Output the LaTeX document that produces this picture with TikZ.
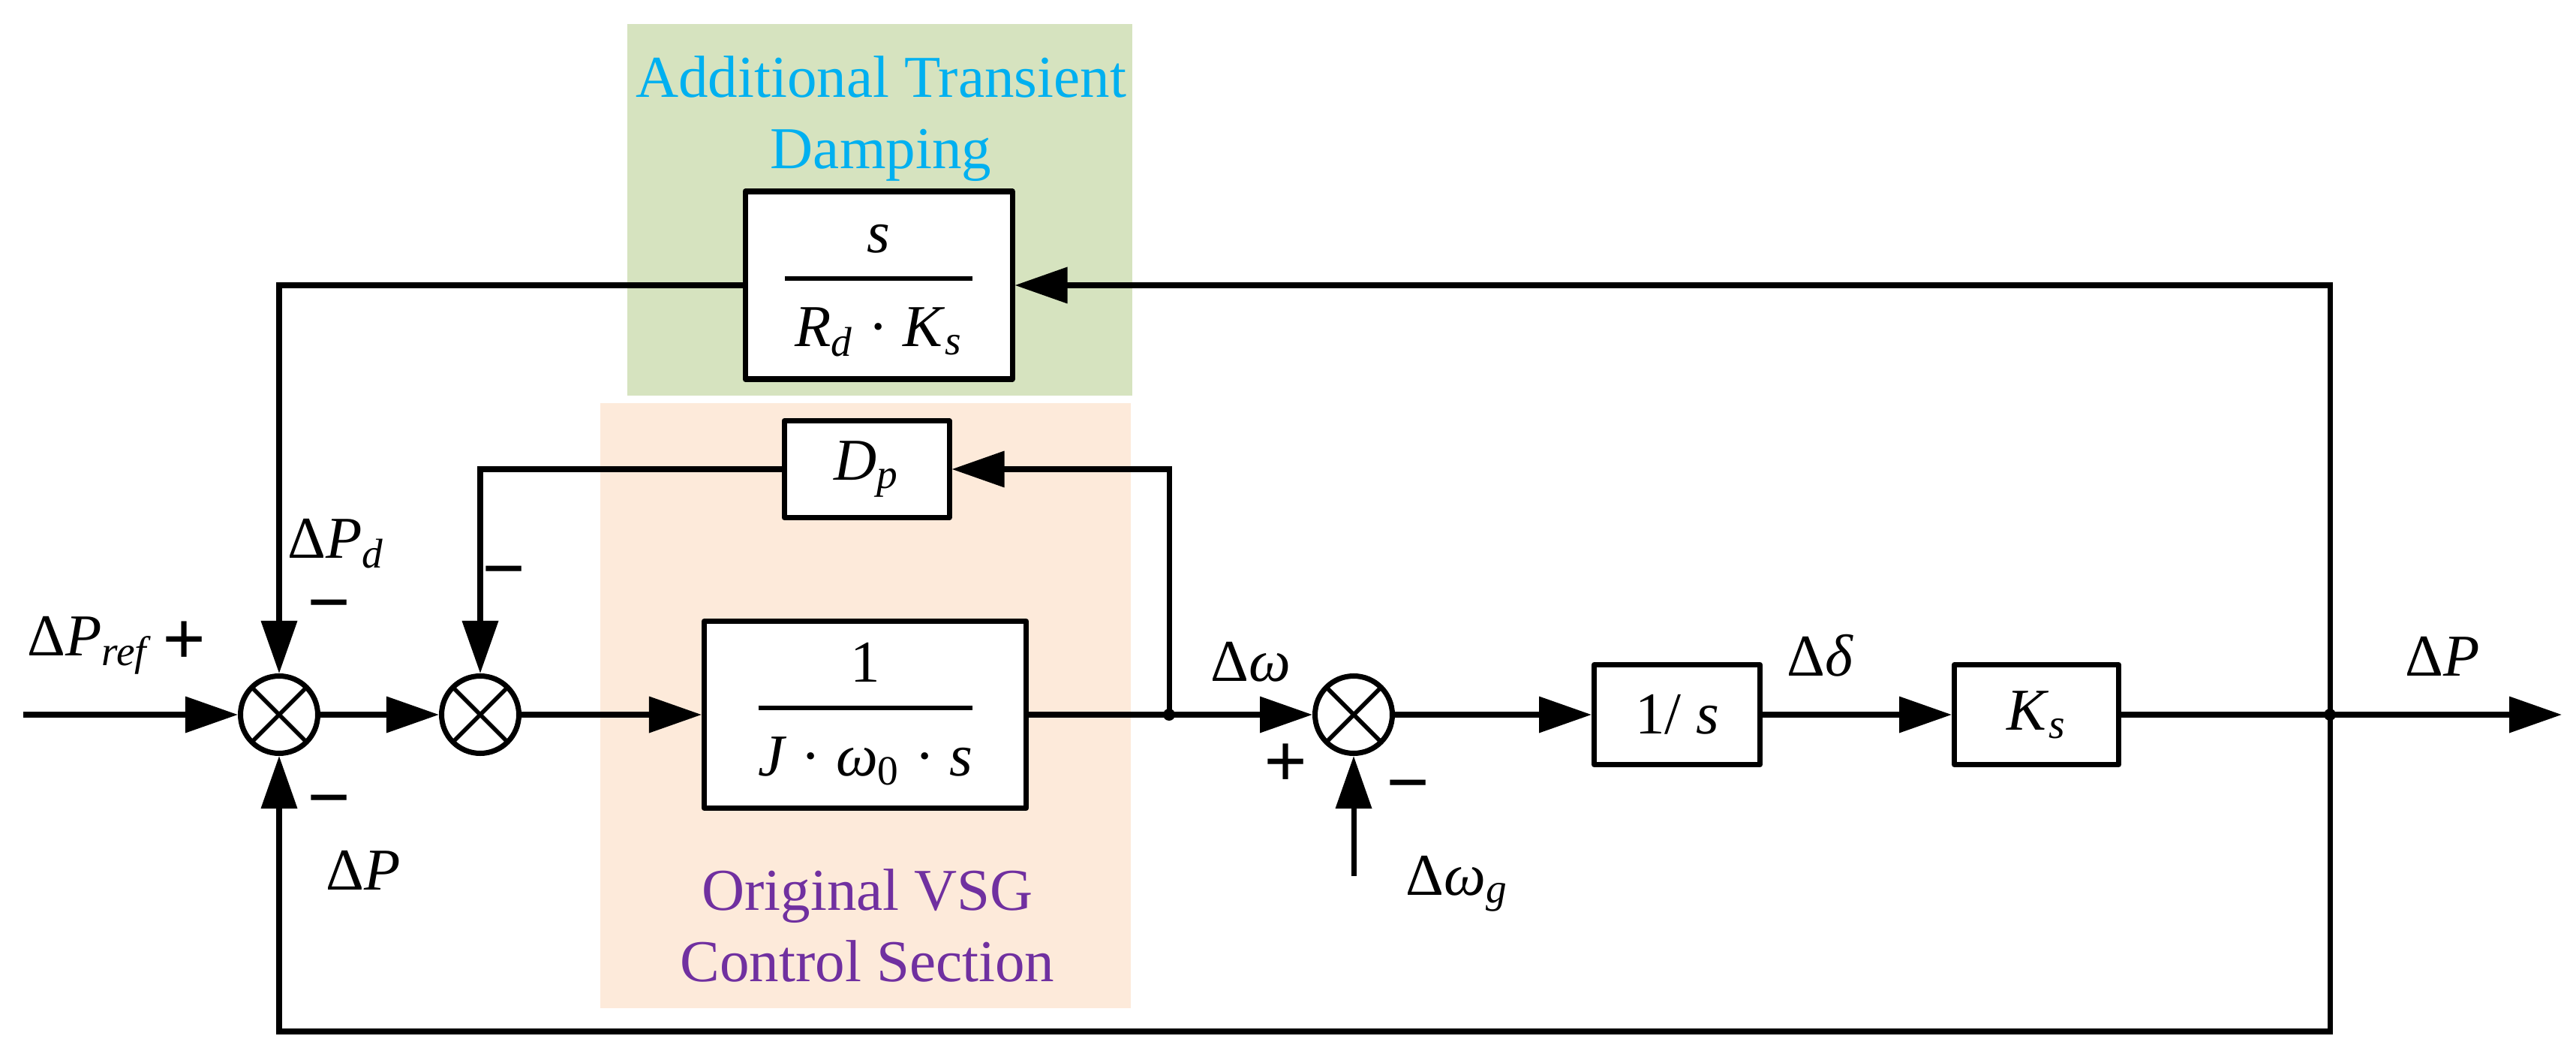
\documentclass[tikz,border=0pt]{standalone}
\usepackage{fontspec}
\setmainfont{Liberation Serif}
\usepackage{tikz}
\usetikzlibrary{arrows.meta,positioning,calc}
\definecolor{dampgreen}{HTML}{D6E3BF}
\definecolor{vsgorange}{HTML}{FDEADA}
\definecolor{dampcyan}{HTML}{00B0F0}
\definecolor{vsgpurple}{HTML}{7030A0}

\newcommand{\blockfrac}[3]{%
  \begin{tabular}{@{}c@{}}
    #1\\[-9pt]
    \rule[7.2pt]{#3}{1.7pt}\\[-9.4pt]
    #2
  \end{tabular}}

\begin{document}
\begin{tikzpicture}[x=1.0cm,y=1.0cm,font=\fontsize{22.5}{27}\selectfont,
  >={Triangle[length=7mm,width=4.7mm]},line width=2pt,
  blockbox/.style={draw,fill=white,inner sep=0pt,line join=round},
  sumnode/.style={circle,draw,fill=white,minimum size=1.03cm,inner sep=0pt,
    path picture={\draw[line width=1.6pt]
      (path picture bounding box.north west)--(path picture bounding box.south east)
      (path picture bounding box.north east)--(path picture bounding box.south west);}},
  lbl/.style={anchor=base west,inner sep=0pt},
  sgnlbl/.style={inner sep=0pt,font=\fontsize{29}{33}\selectfont\bfseries}]
  \useasboundingbox (0,0) rectangle (34.33,14.11);
  % shaded sections
  \fill[dampgreen] (8.36,8.84) rectangle (15.09,13.79);
  \fill[vsgorange] (8.00,0.68) rectangle (15.07,8.74);
  \node[align=center,text=dampcyan] (tdamp) at (11.74,12.53) {Additional Transient\\Damping};
  \node[align=center,text=vsgpurple] (tvsg) at (11.56,1.78) {Original VSG\\Control Section};

  % blocks
  \node[sumnode] (s1) at (3.72,4.59) {};
  \node[sumnode] (s2) at (6.40,4.59) {};
  \node[sumnode] (s3) at (18.04,4.59) {};
  \node[blockbox,minimum width=4.29cm,minimum height=2.49cm] (J) at (11.53,4.59)
    {\blockfrac{1}{\textit{J} · \textit{ω}\textsubscript{0} · \textit{s}}{2.85cm}};
  \node[blockbox,minimum width=2.20cm,minimum height=1.29cm] (dp) at (11.55,7.86)
    {\textit{D}\textsubscript{\textit{p}}};
  \node[blockbox,minimum width=3.56cm,minimum height=2.50cm] (rd) at (11.71,10.31)
    {\blockfrac{\textit{s}}{\textit{R}\textsubscript{\textit{d}} · \textit{K}\textsubscript{\textit{s}}}{2.50cm}};
  \node[blockbox,minimum width=2.21cm,minimum height=1.33cm] (inv) at (22.35,4.59) {1/ \textit{s}};
  \node[blockbox,minimum width=2.19cm,minimum height=1.33cm] (ks) at (27.14,4.59)
    {\textit{K}\textsubscript{\textit{s}}};

  \coordinate (in) at (0.31,4.59);
  \coordinate (jw) at (15.58,4.59);
  \coordinate (jP) at (31.05,4.59);
  \coordinate (out) at (34.14,4.59);
  \coordinate (bot) at (31.05,0.37);
  \coordinate (wg) at (18.04,2.44);

  % signal paths
  \draw[->] (in) -- (s1);
  \draw[->] (s1) -- (s2);
  \draw[->] (s2) -- (J);
  \draw[->] (J) -- (s3);
  \draw[->] (s3) -- (inv);
  \draw[->] (inv) -- (ks);
  \draw[->] (ks) -- (out);
  \draw[->] (jw) |- (dp);
  \draw[->] (dp) -| (s2);
  \draw[->] (jP) |- (rd);
  \draw[->] (rd) -| (s1);
  \draw[->] (jP) -- (bot) -| (s1);
  \draw[->] (wg) -- (s3);
  \fill (jw) circle (0.08);
  \fill (jP) circle (0.08);

  % labels
  \node[lbl] (lref) at (0.33,5.38) {Δ\textit{P}\textsubscript{\textit{ref}}};
  \node[lbl] (lpd) at (3.80,6.68) {Δ\textit{P}\textsubscript{\textit{d}}};
  \node[lbl] (lpb) at (4.31,2.26) {Δ\textit{P}};
  \node[lbl] (lw) at (16.10,5.04) {Δ\textit{ω}};
  \node[lbl] (lwg) at (18.70,2.19) {Δ\textit{ω}\textsubscript{\textit{g}}};
  \node[lbl] (ld) at (23.78,5.11) {Δ\textit{δ}};
  \node[lbl] (lpo) at (32.02,5.11) {Δ\textit{P}};
  \node[sgnlbl] (p1) at (2.46,5.54) {+};
  \node[sgnlbl] (m1) at (4.39,5.93) {−};
  \node[sgnlbl] (m2) at (6.72,6.38) {−};
  \node[sgnlbl] (m3) at (4.39,3.33) {−};
  \node[sgnlbl] (p3) at (17.14,3.91) {+};
  \node[sgnlbl] (m4) at (18.77,3.53) {−};
\end{tikzpicture}
\end{document}
